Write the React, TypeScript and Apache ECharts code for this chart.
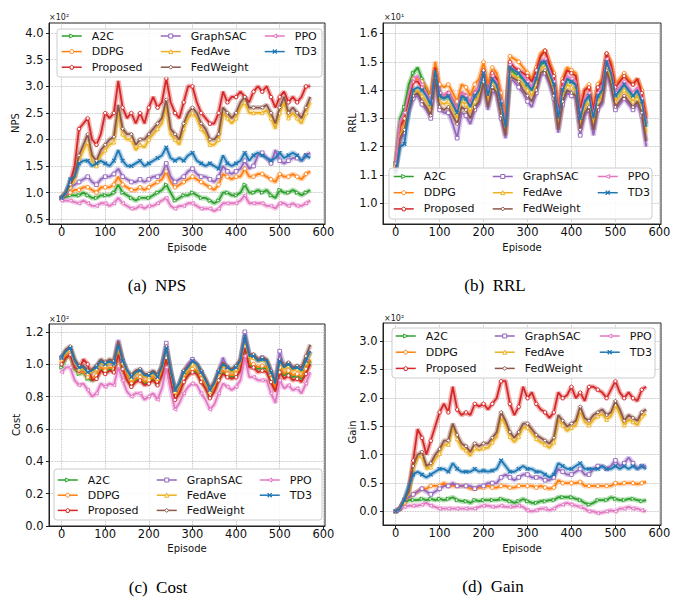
import React, { useEffect, useRef } from 'react';
import * as echarts from 'echarts';

const episodes = [0, 10, 20, 30, 40, 50, 60, 70, 80, 90, 100, 110, 120, 130, 140, 150, 160, 170, 180, 190, 200, 210, 220, 230, 240, 250, 260, 270, 280, 290, 300, 310, 320, 330, 340, 350, 360, 370, 380, 390, 400, 410, 420, 430, 440, 450, 460, 470, 480, 490, 500, 510, 520, 530, 540, 550, 560, 570];

const seriesNames = ['A2C', 'DDPG', 'Proposed', 'GraphSAC', 'FedAve', 'FedWeight', 'PPO', 'TD3'];
const xTicks = [0, 100, 200, 300, 400, 500, 600];

// (a) NPS (x10^2)
const npsA2C = [0.9,0.92,0.95,0.95,0.95,1.0,0.95,0.9,0.9,0.95, 0.95,0.95,1.0,1.15,1.0,0.95,0.9,0.85,0.9,0.9, 0.9,0.95,1.0,1.05,1.15,1.0,0.85,0.9,0.95,0.95, 1.0,0.95,0.9,0.9,0.85,0.8,0.85,1.0,1.0,0.95, 0.95,1.0,1.15,1.0,1.0,1.05,1.0,1.05,0.95,0.9, 1.05,1.0,1.0,1.05,1.0,0.95,1.0,1.05];
const npsDDPG = [0.9,0.95,1.0,1.05,1.05,1.1,1.1,1.05,1.0,1.1, 1.1,1.1,1.15,1.3,1.15,1.1,1.05,1.05,1.1,1.05, 1.1,1.15,1.2,1.25,1.4,1.2,1.1,1.15,1.2,1.25, 1.3,1.25,1.2,1.15,1.1,1.05,1.15,1.35,1.3,1.25, 1.3,1.3,1.45,1.3,1.3,1.35,1.35,1.3,1.25,1.2, 1.35,1.3,1.3,1.35,1.3,1.25,1.35,1.4];
const npsProposed = [0.9,1.0,1.2,1.5,2.2,2.3,2.4,2.0,1.9,2.1, 2.5,2.4,2.5,3.1,2.6,2.4,2.5,2.3,2.5,2.3, 2.6,2.8,2.6,2.7,3.15,2.7,2.5,2.4,2.7,3.0, 3.0,2.7,2.5,2.4,2.3,2.3,2.5,2.9,2.7,2.8, 2.8,2.9,2.8,2.7,2.9,3.0,2.9,3.0,2.8,2.6, 2.8,2.9,2.7,2.8,2.7,2.8,3.0,3.0];
const npsGraphSAC = [0.9,0.95,1.1,1.15,1.2,1.25,1.3,1.2,1.15,1.25, 1.3,1.3,1.35,1.45,1.3,1.25,1.2,1.2,1.25,1.2, 1.25,1.3,1.3,1.35,1.55,1.3,1.2,1.25,1.3,1.4, 1.45,1.35,1.3,1.3,1.25,1.2,1.3,1.5,1.4,1.35, 1.4,1.45,1.6,1.45,1.5,1.7,1.75,1.65,1.55,1.8, 1.6,1.55,1.6,1.65,1.65,1.6,1.7,1.75];
const npsFedAve = [0.9,1.0,1.1,1.25,1.6,1.8,1.95,1.6,1.5,1.7, 1.8,1.9,1.95,2.55,2.1,2.0,2.0,1.8,1.9,1.85, 2.0,2.1,2.2,2.3,2.65,2.1,2.0,1.9,2.2,2.4, 2.5,2.4,2.2,2.1,1.9,1.9,2.0,2.5,2.4,2.3, 2.4,2.6,2.7,2.5,2.5,2.5,2.5,2.55,2.4,2.2, 2.5,2.7,2.4,2.5,2.4,2.3,2.5,2.7];
const npsFedWeight = [0.9,1.0,1.15,1.3,1.7,1.9,2.1,1.7,1.6,1.8, 1.9,2.0,2.05,2.65,2.2,2.1,2.1,1.9,2.0,2.0, 2.1,2.2,2.3,2.4,2.75,2.2,2.1,2.0,2.3,2.5, 2.6,2.5,2.3,2.2,2.0,2.0,2.1,2.6,2.5,2.4, 2.5,2.7,2.8,2.6,2.6,2.6,2.6,2.65,2.5,2.3, 2.6,2.8,2.5,2.6,2.5,2.4,2.6,2.8];
const npsPPO = [0.85,0.85,0.85,0.82,0.8,0.85,0.8,0.75,0.75,0.8, 0.8,0.75,0.8,0.9,0.8,0.75,0.7,0.7,0.75,0.7, 0.75,0.75,0.8,0.85,0.9,0.75,0.7,0.75,0.75,0.8, 0.8,0.75,0.7,0.7,0.7,0.65,0.7,0.8,0.8,0.8, 0.8,0.85,0.95,0.8,0.8,0.8,0.8,0.75,0.75,0.7, 0.8,0.8,0.75,0.8,0.75,0.75,0.8,0.85];
const npsTD3 = [0.9,1.0,1.25,1.3,1.55,1.6,1.6,1.5,1.55,1.6, 1.55,1.5,1.6,1.8,1.6,1.5,1.5,1.55,1.6,1.5, 1.55,1.6,1.65,1.7,1.85,1.65,1.6,1.65,1.6,1.7, 1.75,1.6,1.55,1.5,1.55,1.5,1.45,1.7,1.55,1.5, 1.55,1.6,1.75,1.6,1.7,1.75,1.7,1.65,1.6,1.65, 1.75,1.65,1.7,1.75,1.7,1.6,1.7,1.65];

// (b) RRL (x10^1)
const rrlA2C = [1.14,1.30,1.34,1.42,1.46,1.48,1.44,1.40,1.36,1.47, 1.38,1.37,1.38,1.36,1.33,1.38,1.37,1.35,1.38,1.40, 1.45,1.38,1.44,1.42,1.35,1.28,1.48,1.46,1.45,1.44, 1.42,1.40,1.44,1.49,1.50,1.46,1.42,1.30,1.40,1.44, 1.43,1.42,1.29,1.36,1.38,1.31,1.38,1.40,1.49,1.46, 1.38,1.40,1.42,1.40,1.38,1.40,1.36,1.28];
const rrlDDPG = [1.13,1.26,1.30,1.38,1.44,1.44,1.43,1.41,1.38,1.50, 1.42,1.41,1.42,1.39,1.36,1.42,1.41,1.38,1.42,1.44, 1.50,1.42,1.48,1.46,1.39,1.30,1.52,1.51,1.50,1.48, 1.46,1.44,1.48,1.53,1.54,1.50,1.46,1.33,1.44,1.48, 1.47,1.46,1.34,1.40,1.42,1.34,1.42,1.44,1.53,1.50, 1.42,1.44,1.46,1.44,1.42,1.44,1.40,1.31];
const rrlProposed = [1.12,1.27,1.30,1.37,1.43,1.43,1.41,1.39,1.36,1.48, 1.39,1.38,1.39,1.36,1.33,1.39,1.38,1.35,1.39,1.41, 1.47,1.39,1.46,1.44,1.36,1.28,1.50,1.48,1.47,1.46, 1.45,1.43,1.47,1.52,1.54,1.49,1.45,1.32,1.43,1.47, 1.46,1.45,1.33,1.40,1.41,1.33,1.41,1.43,1.53,1.49, 1.41,1.43,1.45,1.43,1.42,1.44,1.39,1.30];
const rrlGraphSAC = [1.12,1.22,1.25,1.32,1.37,1.38,1.35,1.33,1.30,1.43, 1.33,1.32,1.32,1.28,1.23,1.32,1.31,1.28,1.33,1.35, 1.42,1.33,1.40,1.38,1.30,1.23,1.44,1.43,1.41,1.39, 1.36,1.34,1.39,1.45,1.46,1.42,1.37,1.25,1.35,1.39, 1.38,1.37,1.24,1.31,1.33,1.24,1.33,1.35,1.46,1.41, 1.33,1.35,1.37,1.35,1.33,1.35,1.31,1.20];
const rrlFedAve = [1.12,1.24,1.27,1.34,1.39,1.40,1.38,1.36,1.33,1.45, 1.36,1.35,1.36,1.33,1.30,1.36,1.35,1.32,1.36,1.38, 1.44,1.36,1.42,1.40,1.33,1.25,1.46,1.45,1.44,1.42, 1.40,1.38,1.42,1.48,1.48,1.44,1.40,1.27,1.38,1.42, 1.41,1.40,1.28,1.34,1.36,1.28,1.36,1.38,1.48,1.44, 1.36,1.38,1.40,1.38,1.36,1.38,1.34,1.25];
const rrlFedWeight = [1.12,1.23,1.26,1.33,1.38,1.39,1.36,1.34,1.31,1.44, 1.34,1.33,1.34,1.31,1.28,1.34,1.33,1.30,1.34,1.36, 1.43,1.34,1.41,1.39,1.31,1.24,1.45,1.44,1.43,1.40, 1.38,1.36,1.40,1.46,1.47,1.43,1.38,1.26,1.36,1.40, 1.39,1.38,1.26,1.32,1.34,1.26,1.34,1.36,1.47,1.42, 1.34,1.36,1.38,1.36,1.34,1.36,1.32,1.22];
const rrlPPO = [1.14,1.29,1.32,1.39,1.44,1.45,1.42,1.39,1.36,1.47, 1.39,1.38,1.39,1.36,1.33,1.39,1.38,1.35,1.39,1.41, 1.46,1.39,1.45,1.43,1.36,1.28,1.49,1.47,1.46,1.45, 1.43,1.41,1.45,1.50,1.51,1.47,1.43,1.31,1.41,1.45, 1.44,1.43,1.31,1.37,1.39,1.31,1.39,1.41,1.51,1.47, 1.39,1.41,1.43,1.41,1.39,1.41,1.37,1.28];
const rrlTD3 = [1.11,1.20,1.21,1.33,1.40,1.41,1.40,1.38,1.35,1.47, 1.38,1.37,1.38,1.35,1.32,1.38,1.37,1.34,1.38,1.40, 1.46,1.38,1.44,1.42,1.35,1.27,1.48,1.47,1.46,1.44, 1.42,1.40,1.44,1.50,1.50,1.46,1.42,1.30,1.40,1.44, 1.43,1.42,1.30,1.36,1.38,1.30,1.38,1.40,1.50,1.46, 1.38,1.40,1.42,1.40,1.38,1.40,1.36,1.27];

// (c) Cost (x10^2)
const costA2C = [0.98,1.04,1.06,0.97,0.94,0.95,0.91,0.9,0.92,0.97, 0.95,0.97,0.96,1.07,0.98,0.91,0.87,0.9,0.91,0.88, 0.89,0.91,0.88,0.94,1.05,0.91,0.79,0.83,0.9,0.94, 0.96,0.95,0.9,0.86,0.8,0.84,0.91,0.95,0.93,0.92, 0.93,0.97,1.12,0.99,0.99,0.97,0.98,0.97,0.9,0.84, 0.97,0.93,0.95,0.92,0.93,0.91,0.96,1.02];
const costDDPG = [1.01,1.05,1.07,0.98,0.95,0.95,0.92,0.91,0.93,0.98, 0.96,0.98,0.97,1.08,0.99,0.92,0.88,0.91,0.92,0.89, 0.9,0.92,0.89,0.95,1.06,0.92,0.8,0.84,0.91,0.95, 0.97,0.96,0.91,0.87,0.81,0.85,0.92,0.96,0.94,0.93, 0.94,0.98,1.13,1.0,1.0,0.98,0.99,0.98,0.91,0.85, 0.98,0.94,0.96,0.93,0.94,0.92,0.97,1.03];
const costProposed = [1.0,1.04,1.06,0.98,0.96,1.03,1.0,0.9,0.91,0.96, 0.94,0.96,0.95,1.06,0.97,0.9,0.86,0.89,0.9,0.87, 0.88,0.9,0.87,0.93,1.04,0.9,0.78,0.82,0.89,0.93, 0.95,0.94,0.89,0.85,0.79,0.83,0.9,0.94,0.92,0.91, 0.92,0.96,1.11,0.98,0.98,0.95,0.96,0.95,0.89,0.83, 0.95,0.91,0.93,0.9,0.91,0.89,0.94,1.0];
const costGraphSAC = [1.04,1.08,1.09,1.0,0.97,0.97,0.94,0.95,0.97,1.01, 0.99,1.01,1.0,1.15,1.02,0.95,0.91,0.94,0.95,0.92, 0.93,0.95,0.92,0.99,1.13,0.95,0.83,0.87,0.95,1.0, 1.03,1.0,0.95,0.89,0.83,0.87,0.95,1.04,0.97,0.95, 0.98,1.02,1.2,1.06,1.05,1.03,1.04,1.02,0.94,0.9, 1.08,0.98,1.0,0.97,0.98,0.96,1.02,1.08];
const costFedAve = [1.03,1.07,1.09,1.01,0.97,0.97,0.94,0.95,0.97,1.01, 0.99,1.01,1.0,1.11,1.01,0.95,0.91,0.94,0.95,0.92, 0.92,0.94,0.91,0.97,1.09,0.95,0.83,0.87,0.94,0.97, 1.0,0.99,0.94,0.89,0.83,0.87,0.94,0.99,0.97,0.95, 0.97,1.01,1.15,1.04,1.04,1.02,1.03,1.01,0.94,0.88, 1.01,0.97,0.99,0.96,0.97,0.95,1.01,1.07];
const costFedWeight = [1.04,1.09,1.11,1.03,0.99,0.99,0.96,0.97,0.99,1.03, 1.01,1.03,1.02,1.14,1.03,0.96,0.93,0.96,0.97,0.94, 0.94,0.96,0.93,0.99,1.11,0.96,0.84,0.88,0.96,0.99, 1.02,1.0,0.96,0.91,0.85,0.89,0.96,1.01,0.98,0.97, 0.99,1.03,1.17,1.06,1.06,1.03,1.04,1.03,0.96,0.89, 1.03,0.99,1.01,0.98,0.99,0.98,1.05,1.12];
const costPPO = [0.95,0.98,0.98,0.9,0.87,0.88,0.84,0.8,0.82,0.88, 0.86,0.88,0.87,0.98,0.9,0.83,0.8,0.82,0.82,0.78, 0.8,0.82,0.78,0.85,0.98,0.84,0.72,0.76,0.82,0.86, 0.88,0.87,0.82,0.78,0.72,0.75,0.82,0.88,0.86,0.84, 0.86,0.9,1.05,0.92,0.92,0.9,0.9,0.9,0.82,0.76, 0.9,0.85,0.87,0.84,0.85,0.82,0.88,0.95];
const costTD3 = [1.04,1.08,1.1,1.02,0.98,0.98,0.95,0.96,0.98,1.02, 1.0,1.02,1.0,1.12,1.02,0.96,0.92,0.95,0.96,0.93, 0.93,0.95,0.92,0.98,1.1,0.96,0.84,0.88,0.95,0.98, 1.02,1.0,0.95,0.9,0.84,0.88,0.95,1.0,0.98,0.96, 0.98,1.02,1.17,1.05,1.05,1.02,1.03,1.02,0.95,0.88, 1.02,0.98,1.0,0.97,0.98,0.96,1.02,1.08];

// (d) Gain (x10^2)
const gainA2C = [0.0,0.05,0.15,0.2,0.2,0.2,0.22,0.2,0.22,0.2, 0.22,0.2,0.22,0.25,0.2,0.18,0.18,0.15,0.2,0.18, 0.2,0.2,0.2,0.2,0.22,0.2,0.18,0.15,0.18,0.22, 0.18,0.15,0.15,0.18,0.18,0.2,0.2,0.25,0.25,0.25, 0.25,0.22,0.2,0.15,0.12,0.15,0.2,0.2,0.2,0.25, 0.22,0.2,0.2,0.22,0.22,0.2,0.18,0.2];
const gainDDPG = [0.0,0.05,0.15,0.25,0.3,0.35,0.4,0.4,0.45,0.45, 0.45,0.5,0.45,0.45,0.45,0.45,0.45,0.4,0.4,0.42, 0.42,0.45,0.42,0.42,0.45,0.45,0.42,0.42,0.45,0.45, 0.45,0.45,0.42,0.45,0.42,0.4,0.42,0.55,0.5,0.5, 0.5,0.5,0.52,0.45,0.45,0.45,0.45,0.45,0.45,0.45, 0.5,0.48,0.5,0.5,0.5,0.48,0.5,0.52];
const gainProposed = [0.0,0.05,0.2,0.4,0.9,1.45,1.3,1.0,1.25,1.5, 1.75,1.9,1.75,2.2,1.8,1.7,1.75,1.7,1.9,1.85, 1.9,1.8,1.9,2.0,2.3,2.3,1.9,1.7,1.85,2.2, 2.0,2.1,1.9,1.8,1.75,1.65,1.75,2.1,2.0,2.05, 2.2,2.0,2.1,1.95,2.2,2.2,2.15,2.1,2.0,2.15, 2.3,2.1,2.0,2.1,2.0,1.95,2.15,2.2];
const gainGraphSAC = [0.0,0.05,0.2,0.25,0.3,0.35,0.4,0.35,0.3,0.35, 0.4,0.45,0.45,0.5,0.45,0.45,0.45,0.45,0.4,0.45, 0.45,0.5,0.5,0.5,0.6,0.65,0.6,0.55,0.6,0.65, 0.65,0.6,0.6,0.6,0.55,0.55,0.6,0.75,0.7,0.65, 0.65,0.7,0.75,0.65,0.65,0.75,0.8,0.8,0.75,0.8, 0.9,0.8,0.85,0.95,0.85,0.75,0.8,0.8];
const gainFedAve = [0.0,0.05,0.18,0.32,0.75,0.95,0.98,0.75,0.78,0.92, 1.02,1.18,1.18,1.5,1.28,1.12,1.08,0.98,1.12,1.08, 1.12,1.12,1.22,1.32,1.68,1.52,1.32,1.22,1.32,1.48, 1.48,1.38,1.28,1.22,1.18,1.12,1.22,1.62,1.52,1.42, 1.48,1.52,1.78,1.58,1.52,1.62,1.68,1.72,1.62,1.68, 1.88,1.72,1.52,1.62,1.58,1.52,1.68,1.72];
const gainFedWeight = [0.0,0.05,0.2,0.35,0.8,1.0,1.05,0.8,0.85,1.0, 1.1,1.25,1.25,1.55,1.35,1.2,1.15,1.05,1.2,1.15, 1.2,1.2,1.3,1.4,1.75,1.6,1.4,1.3,1.4,1.55, 1.55,1.45,1.35,1.3,1.25,1.2,1.3,1.7,1.6,1.5, 1.55,1.6,1.85,1.65,1.6,1.7,1.75,1.8,1.7,1.75, 1.95,1.8,1.6,1.7,1.65,1.6,1.75,1.8];
const gainPPO = [0.0,0.05,0.08,0.1,0.1,0.1,0.12,0.15,0.1,0.08, 0.05,0.05,0.05,0.05,0.05,0.05,0.05,0.05,0.05,0.08, 0.1,0.1,0.08,0.08,0.1,0.08,0.08,0.08,0.1,0.08, 0.02,0.0,0.02,0.05,0.05,0.02,0.05,0.1,0.12,0.15, 0.12,0.1,0.08,0.05,0.0,0.0,-0.03,-0.02,0.0,0.02, 0.0,0.05,0.05,0.08,0.05,0.05,0.02,0.0];
const gainTD3 = [0.0,0.05,0.2,0.45,0.65,0.7,0.65,0.6,0.65,0.7, 0.75,0.75,0.7,0.85,0.75,0.7,0.7,0.7,0.75,0.7, 0.72,0.7,0.72,0.75,0.9,0.8,0.7,0.7,0.75,0.8, 0.75,0.75,0.7,0.7,0.65,0.6,0.65,0.85,0.8,0.75, 0.75,0.8,0.85,0.75,0.75,0.75,0.75,0.8,0.75,0.75, 0.8,0.75,0.8,0.75,0.8,0.75,0.8,0.75];

const npsTicks = [0.5, 1.0, 1.5, 2.0, 2.5, 3.0, 3.5, 4.0];
const rrlTicks = [1.0, 1.1, 1.2, 1.3, 1.4, 1.5, 1.6];
const costTicks = [0.0, 0.2, 0.4, 0.6, 0.8, 1.0, 1.2];
const gainTicks = [0.0, 0.5, 1.0, 1.5, 2.0, 2.5, 3.0];

const colors: Record<string, string> = {
  A2C: '#2ca02c',
  DDPG: '#ff7f0e',
  Proposed: '#d62728',
  GraphSAC: '#9467bd',
  FedAve: '#EDB120',
  FedWeight: '#8c564b',
  PPO: '#e377c2',
  TD3: '#1f77b4',
};

const PENTAGON = 'path://M0,-10 L9.5,-3.1 L5.9,8.1 L-5.9,8.1 L-9.5,-3.1 Z';
const XMARK = 'path://M-10,-8 L-8,-10 L0,-2 L8,-10 L10,-8 L2,0 L10,8 L8,10 L0,2 L-8,10 L-10,8 L-2,0 Z';

const markers: Record<string, { symbol: string; rotate: number; filled: boolean }> = {
  A2C: { symbol: 'triangle', rotate: -90, filled: false },
  DDPG: { symbol: 'circle', rotate: 0, filled: false },
  Proposed: { symbol: PENTAGON, rotate: 0, filled: false },
  GraphSAC: { symbol: 'rect', rotate: 0, filled: false },
  FedAve: { symbol: 'triangle', rotate: 0, filled: false },
  FedWeight: { symbol: 'diamond', rotate: 0, filled: false },
  PPO: { symbol: 'triangle', rotate: 90, filled: false },
  TD3: { symbol: XMARK, rotate: 0, filled: true },
};

const panels = [
  {
    grid: { left: 49, top: 23, width: 276, height: 201 },
    yMin: 0.41, yMax: 4.19, yTicks: npsTicks,
    data: { A2C: npsA2C, DDPG: npsDDPG, Proposed: npsProposed, GraphSAC: npsGraphSAC, FedAve: npsFedAve, FedWeight: npsFedWeight, PPO: npsPPO, TD3: npsTD3 } as Record<string, number[]>,
    legendTop: 30, legendLefts: [61, 160, 264], legendGap: 3.6, box: { x: 57, y: 29, w: 265, h: 48 },
    yName: 'NPS', yNamePos: [15, 123], xNamePos: [187, 247], expo: '×10²', expoPos: [49, 17],
    caption: '(a)  NPS', captionPos: [157, 285],
  },
  {
    grid: { left: 383, top: 23, width: 278, height: 201 },
    yMin: 0.927, yMax: 1.637, yTicks: rrlTicks,
    data: { A2C: rrlA2C, DDPG: rrlDDPG, Proposed: rrlProposed, GraphSAC: rrlGraphSAC, FedAve: rrlFedAve, FedWeight: rrlFedWeight, PPO: rrlPPO, TD3: rrlTD3 } as Record<string, number[]>,
    legendTop: 170.5, legendLefts: [393, 492, 597], legendGap: 4.2, box: { x: 389, y: 168, w: 263, h: 51 },
    yName: 'RRL', yNamePos: [352, 123], xNamePos: [522, 247], expo: '×10¹', expoPos: [384, 17],
    caption: '(b)  RRL', captionPos: [495, 285],
  },
  {
    grid: { left: 49, top: 324, width: 276, height: 202 },
    yMin: 0, yMax: 1.248, yTicks: costTicks,
    data: { A2C: costA2C, DDPG: costDDPG, Proposed: costProposed, GraphSAC: costGraphSAC, FedAve: costFedAve, FedWeight: costFedWeight, PPO: costPPO, TD3: costTD3 } as Record<string, number[]>,
    legendTop: 474, legendLefts: [57, 156, 259], legendGap: 3.2, box: { x: 54, y: 469, w: 268, h: 51 },
    yName: 'Cost', yNamePos: [16, 425], xNamePos: [187, 548], expo: '×10²', expoPos: [49, 319],
    caption: '(c)  Cost', captionPos: [158, 587],
  },
  {
    grid: { left: 383, top: 323, width: 278, height: 202 },
    yMin: -0.24, yMax: 3.325, yTicks: gainTicks,
    data: { A2C: gainA2C, DDPG: gainDDPG, Proposed: gainProposed, GraphSAC: gainGraphSAC, FedAve: gainFedAve, FedWeight: gainFedWeight, PPO: gainPPO, TD3: gainTD3 } as Record<string, number[]>,
    legendTop: 330, legendLefts: [395, 494, 599], legendGap: 4.2, box: { x: 392, y: 328, w: 263, h: 50 },
    yName: 'Gain', yNamePos: [352, 432], xNamePos: [522, 548], expo: '×10²', expoPos: [384, 318],
    caption: '(d)  Gain', captionPos: [493, 586],
  },
];

const legendColumns = [
  ['A2C', 'DDPG', 'Proposed'],
  ['GraphSAC', 'FedAve', 'FedWeight'],
  ['PPO', 'TD3'],
];

const FONT = 'DejaVu Sans';

function buildOption() {
  const grid: any[] = [];
  const xAxis: any[] = [];
  const yAxis: any[] = [];
  const series: any[] = [];
  const legend: any[] = [];
  const graphic: any[] = [];

  panels.forEach((p, pi) => {
    grid.push({
      ...p.grid,
      show: true,
      borderColor: '#222',
      borderWidth: 1,
      backgroundColor: 'transparent',
    });
    xAxis.push({
      type: 'value',
      gridIndex: pi,
      min: -28.75,
      max: 603.75,
      axisLine: { show: true, onZero: false, lineStyle: { color: '#222', width: 1 } },
      axisTick: { show: true, length: 3, lineStyle: { color: '#222' }, customValues: xTicks },
      axisLabel: { customValues: xTicks, margin: 2, fontSize: 11.5, fontFamily: FONT, color: '#111', formatter: (v: number) => String(Math.round(v)) },
      splitLine: { show: true, lineStyle: { color: '#b0b0b0', type: 'dotted', width: 0.8 } },
    });
    yAxis.push({
      type: 'value',
      gridIndex: pi,
      min: p.yMin,
      max: p.yMax,
      axisLine: { show: true, onZero: false, lineStyle: { color: '#222', width: 1 } },
      axisTick: { show: true, length: 3, lineStyle: { color: '#222' }, customValues: p.yTicks },
      axisLabel: { customValues: p.yTicks, margin: 5.5, fontSize: 11.5, fontFamily: FONT, color: '#111', formatter: (v: number) => v.toFixed(1) },
      splitLine: { show: true, lineStyle: { color: '#b0b0b0', type: 'dotted', width: 0.8 } },
    });

    seriesNames.forEach((name, si) => {
      const c = colors[name];
      const m = markers[name];
      const vals = p.data[name];
      const pts = episodes.map((e, i) => [e, vals[i]]);
      // soft wide band beneath, emulating the fluctuation envelope
      series.push({
        type: 'line',
        name: name + ' band',
        xAxisIndex: pi,
        yAxisIndex: pi,
        data: pts,
        showSymbol: false,
        lineStyle: { color: c, width: 5, opacity: 0.35 },
        emphasis: { disabled: true },
        silent: true,
        z: 2,
        zlevel: 0,
      });
      series.push({
        type: 'line',
        name,
        xAxisIndex: pi,
        yAxisIndex: pi,
        data: pts,
        showSymbol: true,
        showAllSymbol: true,
        symbol: m.symbol,
        symbolRotate: m.rotate,
        symbolSize: (_v: any, params: any) => (params.dataIndex % 2 === 0 ? 3.6 : 0),
        lineStyle: { color: c, width: 1.8 },
        itemStyle: { color: m.filled ? c : '#fff', borderColor: c, borderWidth: 0.9 },
        emphasis: { disabled: true },
        z: 3 + si * 0.01,
      });
    });

    legendColumns.forEach((col, ci) => {
      legend.push({
        data: col,
        orient: 'vertical',
        left: p.legendLefts[ci],
        top: p.legendTop,
        itemWidth: 20,
        itemHeight: 5,
        itemGap: p.legendGap,
        padding: 0,
        selectedMode: false,
        z: 12,
        itemStyle: { borderWidth: 1 },
        lineStyle: { width: 1.5 },
        textStyle: { fontSize: 11, fontFamily: FONT, color: '#111', lineHeight: 12, padding: [0, 0, 0, 5] },
      });
    });

    graphic.push({
      type: 'rect',
      shape: { x: p.box.x, y: p.box.y, width: p.box.w, height: p.box.h, r: 3 },
      style: { fill: 'rgba(255,255,255,0.85)', stroke: '#cccccc', lineWidth: 1 },
      z: 10,
    });
    graphic.push({
      type: 'text',
      x: p.yNamePos[0],
      y: p.yNamePos[1],
      rotation: Math.PI / 2,
      style: { text: p.yName, fontSize: 10, fontFamily: FONT, fill: '#111', align: 'center', verticalAlign: 'middle' },
      z: 20,
    });
    graphic.push({
      type: 'text',
      x: p.xNamePos[0],
      y: p.xNamePos[1],
      style: { text: 'Episode', fontSize: 10, fontFamily: FONT, fill: '#111', align: 'center', verticalAlign: 'middle' },
      z: 20,
    });
    graphic.push({
      type: 'text',
      x: p.expoPos[0],
      y: p.expoPos[1],
      style: { text: p.expo, fontSize: 8, fontFamily: FONT, fill: '#222', align: 'left', verticalAlign: 'middle' },
      z: 20,
    });
    graphic.push({
      type: 'text',
      x: p.captionPos[0],
      y: p.captionPos[1],
      style: { text: p.caption, fontSize: 17, fontFamily: 'Liberation Serif', fill: '#000', align: 'center', verticalAlign: 'middle' },
      z: 20,
    });
  });

  return {
    animation: false,
    backgroundColor: '#fff',
    grid,
    xAxis,
    yAxis,
    series,
    legend,
    graphic,
  };
}

export default function App() {
  const ref = useRef<HTMLDivElement>(null);
  useEffect(() => {
    if (!ref.current) return;
    const chart = echarts.init(ref.current, undefined, { renderer: 'svg' });
    chart.setOption(buildOption() as any);
    return () => chart.dispose();
  }, []);
  return (
    <div
      ref={ref}
      style={{ position: 'absolute', left: 0, top: 0, width: 681, height: 598, background: '#fff' }}
    />
  );
}
